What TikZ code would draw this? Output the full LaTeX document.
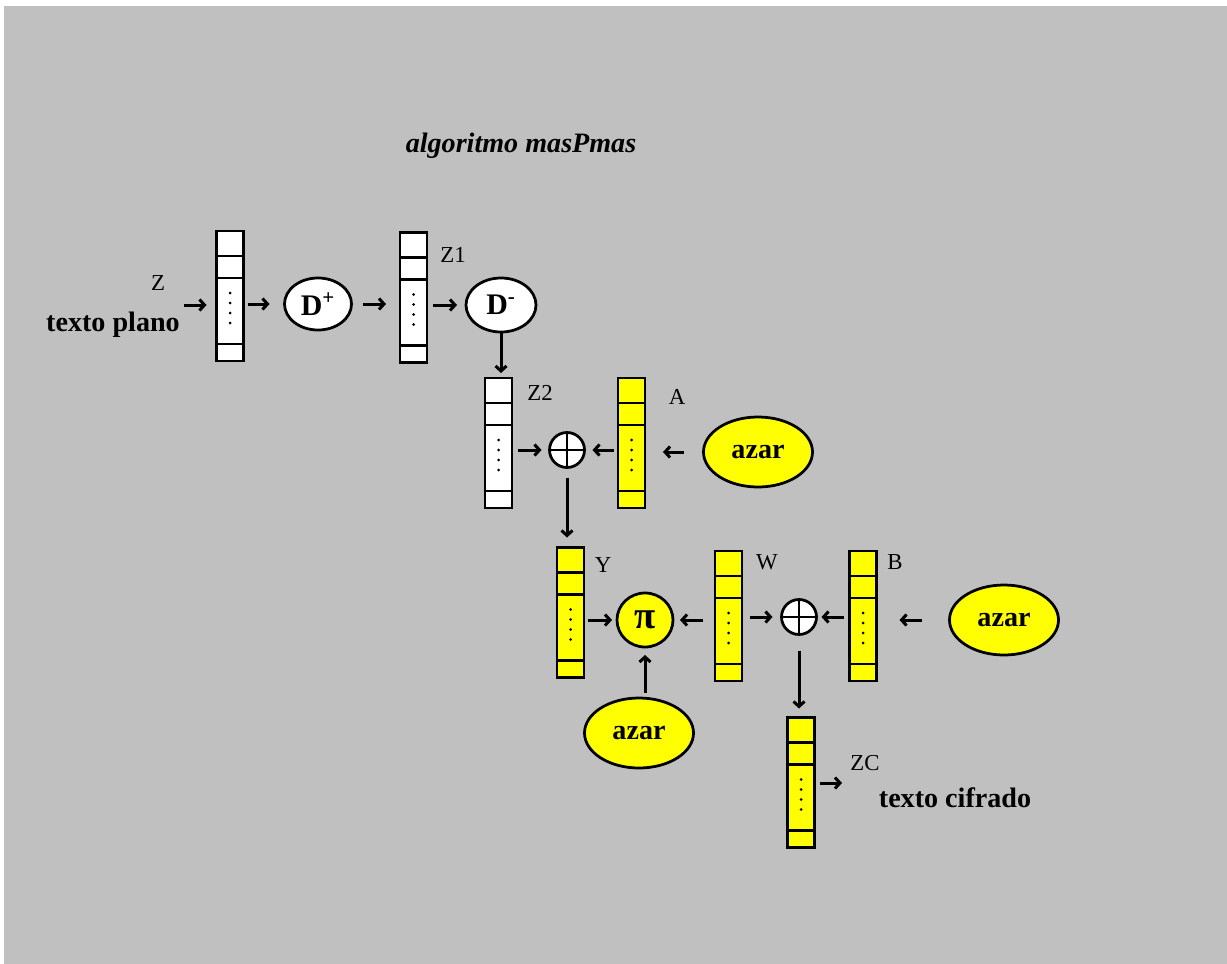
\documentclass[tikz,border=0pt]{standalone}
\usepackage{fontspec}
\setmainfont{Liberation Serif}
\usetikzlibrary{shapes.geometric, arrows.meta}

\begin{document}
\begin{tikzpicture}[x=0.2mm, y=-0.2mm]
    % Define colours
    \definecolor{fondoColour}{HTML}{C0C0C0}
    \definecolor{amarilloColour}{HTML}{FFFF00}

    % Define styles
    \tikzset{
        registro/.style={draw, line width=0.55mm, minimum width=5.4mm, minimum height=26mm,
            inner sep=0pt, outer sep=0pt,
            path picture={
                \foreach \corte in {5, 9.4, 22.6}
                    \draw[black, line width=0.55mm] ([yshift=-\corte mm]path picture bounding box.north west)
                        -- ([yshift=-\corte mm]path picture bounding box.north east);
                \foreach \corte in {12.4, 14.4, 16.4, 18.4}
                    \fill[black] ([yshift=-\corte mm]path picture bounding box.north) circle (0.3mm);
            }},
        operador/.style={ellipse, draw, line width=0.55mm, fill=white, inner sep=0pt, outer sep=0pt,
            minimum width=13.4mm, minimum height=10.4mm, font=\fontsize{17}{19}\selectfont\bfseries},
        azarbox/.style={ellipse, draw, line width=0.55mm, fill=amarilloColour, inner sep=0pt, outer sep=0pt,
            minimum width=21.8mm, minimum height=14mm, font=\fontsize{16}{18}\selectfont\bfseries},
        xorbox/.style={circle, draw, line width=0.55mm, fill=white, inner sep=0pt, outer sep=0pt,
            minimum size=7mm,
            path picture={
                \draw[black, line width=0.55mm] (path picture bounding box.north) -- (path picture bounding box.south)
                    (path picture bounding box.west) -- (path picture bounding box.east);
            }},
        etiqueta/.style={font=\fontsize{13}{15}\selectfont},
        texto/.style={font=\fontsize{16}{18}\selectfont\bfseries},
        flecha/.style={line width=0.6mm, -{Straight Barb[length=1mm, width=2.2mm]}}
    }

    % Draw background
    \useasboundingbox (0,0) rectangle (1227,964);
    \fill[white] (0,0) rectangle (1227,964);
    \fill[fondoColour] (4,6) rectangle (1227,964);

    % Title
    \node[font=\fontsize{16}{18}\selectfont\bfseries\itshape] (titulo) at (521,146) {algoritmo masPmas};

    % Draw registers
    \foreach \nombre/\x/\y/\relleno in {regZ/230/296/white, regZ1/413.5/297.5/white, regZ2/498.5/443/white,
        regA/631.5/443/amarilloColour, regY/570.5/612.5/amarilloColour, regW/728.5/616/amarilloColour,
        regB/863/616/amarilloColour, regZC/801/782.5/amarilloColour}
        \node[registro, fill=\relleno] (\nombre) at (\x,\y) {};

    % Draw operators
    \node[operador] (dmas) at (318,304) {D\textsuperscript{+}};
    \node[operador, minimum width=14mm, minimum height=10.8mm] (dmenos) at (501,305) {D\textsuperscript{-}};
    \node[xorbox] (xor1) at (567,450) {};
    \node[operador, fill=amarilloColour, minimum width=11.2mm, minimum height=10.8mm,
        font=\fontsize{22}{24}\selectfont\bfseries] (pi) at (645,620) {π};
    \node[xorbox] (xor2) at (799,617) {};
    \node[azarbox] (azar1) at (758,452) {azar};
    \node[azarbox] (azar2) at (1004,620) {azar};
    \node[azarbox] (azar3) at (639,733) {azar};

    % Label registers
    \node[etiqueta] (lblZ) at (158,283) {Z};
    \node[etiqueta] (lblZ1) at (453,255) {Z1};
    \node[etiqueta] (lblZ2) at (540,393) {Z2};
    \node[etiqueta] (lblA) at (677,397) {A};
    \node[etiqueta] (lblY) at (603,565) {Y};
    \node[etiqueta] (lblW) at (767,562) {W};
    \node[etiqueta] (lblB) at (895,562) {B};
    \node[etiqueta] (lblZC) at (865,763) {ZC};
    \node[texto] (plano) at (113,325) {texto plano};
    \node[texto] (cifrado) at (955,798) {texto cifrado};

    % Free ends
    \coordinate (entrada) at (184,305);
    \coordinate (salida) at (842,783);

    % Draw arrows, first row
    \draw[flecha, shorten >=2mm] (entrada) -- (regZ.west |- entrada);
    \draw[flecha, shorten <=0.8mm, shorten >=3mm] (regZ.east |- dmas) -- (dmas.west);
    \draw[flecha, shorten <=2.2mm, shorten >=2.8mm] (dmas.east) -- (regZ1.west |- dmas);
    \draw[flecha, shorten <=1.2mm, shorten >=1.8mm] (regZ1.east |- dmenos) -- (dmenos.west);
    \draw[flecha, shorten >=1mm] (dmenos.south) -- (dmenos.south |- regZ2.north);

    % Second row
    \draw[flecha, shorten <=1.2mm, shorten >=1.6mm] (regZ2.east |- xor1) -- (xor1.west);
    \draw[flecha, shorten <=0.8mm, shorten >=1.6mm] (regA.west |- xor1) -- (xor1.east);
    \draw[flecha, shorten <=4mm, shorten >=3.6mm] (azar1.west) -- (regA.east |- azar1);
    \draw[flecha, shorten <=2mm, shorten >=2mm] (xor1.south) -- (xor1.south |- regY.north);

    % Third row
    \draw[flecha, shorten <=0.8mm, shorten >=1mm] (regY.east |- pi) -- (pi.west);
    \draw[flecha, shorten <=2.4mm, shorten >=1.4mm] (regW.west |- pi) -- (pi.east);
    \draw[flecha, shorten <=1.6mm, shorten >=1.8mm] (regW.east |- xor2) -- (xor2.west);
    \draw[flecha, shorten <=1.2mm, shorten >=1mm] (regB.west |- xor2) -- (xor2.east);
    \draw[flecha, shorten <=5.6mm, shorten >=4.6mm] (azar2.west) -- (regB.east |- azar2);
    \draw[flecha, shorten <=1mm, shorten >=1.6mm] (pi.south |- azar3.north) -- (pi.south);
    \draw[flecha, shorten <=3.2mm, shorten >=1.8mm] (xor2.south) -- (xor2.south |- regZC.north);
    \draw[flecha, shorten <=1mm] (regZC.east |- salida) -- (salida);
\end{tikzpicture}
\end{document}
